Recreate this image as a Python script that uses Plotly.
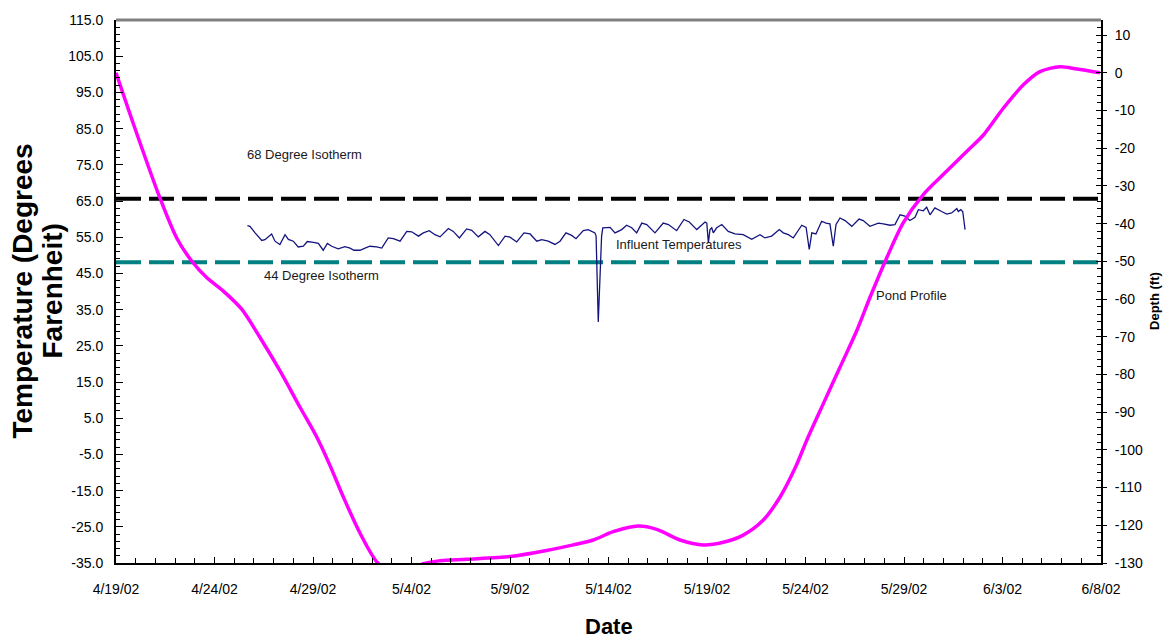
import pandas as pd
import plotly.graph_objects as go

BASE_DATE = "2002-04-19"

# Pond profile (depth, ft) vs days since 4/19/02
pond_day = [0.00, 0.96, 2.23, 3.08, 3.84, 4.60, 5.45, 6.38, 7.31, 8.32, 9.34, 10.19,
            10.86, 11.54, 12.39, 13.31, 14.50, 15.60, 16.45, 17.80, 20.00, 21.86,
            23.21, 24.23, 25.24, 26.51, 27.45, 28.63, 29.81, 30.83, 31.84, 32.86,
            33.71, 34.50, 35.06, 35.90, 36.75, 37.60, 38.27, 39.12, 39.96, 40.98,
            41.99, 43.18, 44.03, 45.04, 46.06, 46.90, 47.92, 48.77, 49.95]
pond_depth = [0.0, -14.7, -33.2, -43.8, -49.9, -54.3, -57.9, -62.7, -70.2, -79.0, -88.7, -96.6,
              -104.1, -112.5, -122.1, -130.1, -133.5, -130.2, -129.4, -129.0, -128.3, -126.7,
              -125.2, -123.9, -121.7, -120.2, -121.1, -123.9, -125.2, -124.5, -122.6, -118.6,
              -112.5, -104.5, -97.5, -87.8, -78.1, -68.4, -59.6, -49.1, -39.8, -32.3,
              -27.0, -20.9, -16.5, -9.4, -3.2, 0.3, 1.6, 1.0, 0.0]

# Influent temperatures (deg F) vs days since 4/19/02
influent_day = [6.67, 6.80, 7.06, 7.40, 7.56, 7.73, 7.90, 8.07, 8.32, 8.58, 8.75, 9.00,
                9.25, 9.51, 9.71, 10.02, 10.27, 10.52, 10.73, 10.95, 11.28, 11.62, 11.88,
                12.08, 12.39, 12.64, 12.89, 13.23, 13.49, 13.82, 14.08, 14.42, 14.76, 15.01,
                15.35, 15.60, 15.90, 16.19, 16.45, 16.87, 17.12, 17.43, 17.80, 18.06, 18.39,
                18.73, 18.98, 19.41, 19.75, 20.00, 20.34, 20.71, 21.02, 21.36, 21.61, 21.94,
                22.28, 22.54, 22.84, 23.13, 23.35, 23.72, 23.97, 24.31, 24.37, 24.48, 24.65,
                24.71, 25.08, 25.33, 25.67, 25.92, 26.18, 26.43, 26.69, 26.94, 27.36, 27.78,
                28.04, 28.46, 28.83, 29.10, 29.48, 29.90, 29.99, 30.07, 30.15, 30.24, 30.32,
                30.49, 30.75, 31.08, 31.42, 31.84, 32.27, 32.69, 32.94, 33.28, 33.67, 33.87,
                34.13, 34.38, 34.81, 35.03, 35.19, 35.32, 35.53, 35.82, 36.04, 36.24, 36.41,
                36.55, 36.75, 37.01, 37.35, 37.72, 37.93, 38.27, 38.70, 38.95, 39.29, 39.54,
                39.80, 40.05, 40.30, 40.56, 40.73, 40.98, 41.15, 41.32, 41.57, 41.91, 42.17,
                42.42, 42.68, 42.76, 42.88, 42.98, 43.10]
influent_temp = [58.2, 58.0, 56.2, 54.1, 54.3, 55.0, 55.9, 53.9, 53.0, 55.7, 54.4, 53.9,
                 52.3, 52.5, 53.8, 53.6, 53.3, 51.4, 53.3, 52.5, 51.8, 52.4, 52.0,
                 51.4, 51.4, 52.0, 52.5, 52.3, 52.0, 54.8, 54.6, 53.9, 56.6, 56.5,
                 55.3, 56.2, 56.8, 55.7, 55.1, 57.4, 56.6, 54.8, 57.3, 56.9, 55.1,
                 56.6, 55.7, 52.7, 55.3, 55.0, 53.7, 56.2, 55.9, 53.9, 54.3, 53.9,
                 53.0, 53.9, 56.2, 55.5, 54.6, 56.8, 57.1, 56.2, 55.3, 31.6, 55.3,
                 57.6, 57.7, 56.2, 57.1, 58.3, 57.6, 56.2, 58.9, 58.5, 56.2, 58.9,
                 58.5, 56.8, 59.9, 59.2, 57.1, 59.2, 58.9, 53.4, 57.1, 57.6, 56.2,
                 57.6, 58.5, 56.6, 55.9, 55.7, 54.4, 55.7, 54.8, 55.3, 57.1, 56.2,
                 55.7, 54.8, 58.3, 57.7, 51.6, 56.2, 55.9, 59.4, 58.9, 58.7, 52.5,
                 58.5, 60.3, 59.6, 58.0, 60.0, 59.6, 58.0, 58.9, 58.7, 58.3, 58.5,
                 61.2, 60.8, 59.6, 60.5, 62.6, 62.3, 63.3, 61.2, 63.1, 62.1, 61.4,
                 61.7, 62.9, 62.1, 62.6, 62.1, 57.1]

# Isotherm reference lines (as drawn, deg F on left axis)
isotherm_day = [0.0, 50.0]
isotherm_68_temp = [65.6, 65.6]
isotherm_44_temp = [48.1, 48.1]

x_tick_days = [0, 5, 10, 15, 20, 25, 30, 35, 40, 45, 50]
x_tick_labels = ["4/19/02", "4/24/02", "4/29/02", "5/4/02", "5/9/02", "5/14/02",
                 "5/19/02", "5/24/02", "5/29/02", "6/3/02", "6/8/02"]

temp_ticks = [-35, -25, -15, -5, 5, 15, 25, 35, 45, 55, 65, 75, 85, 95, 105, 115]
temp_tick_labels = ["-35.0", "-25.0", "-15.0", "-5.0", "5.0", "15.0", "25.0", "35.0",
                    "45.0", "55.0", "65.0", "75.0", "85.0", "95.0", "105.0", "115.0"]
depth_ticks = [-130, -120, -110, -100, -90, -80, -70, -60, -50, -40, -30, -20, -10, 0, 10]
depth_tick_labels = ["-130", "-120", "-110", "-100", "-90", "-80", "-70", "-60", "-50",
                     "-40", "-30", "-20", "-10", "0", "10"]


def to_dates(days):
    base = pd.Timestamp(BASE_DATE)
    return [base + pd.Timedelta(days=d) for d in days]


FONT = "Liberation Sans, Arial, sans-serif"
TXT = "#1a1a1a"

fig = go.Figure()

fig.add_trace(go.Scatter(x=to_dates(isotherm_day), y=isotherm_68_temp, mode="lines",
                         line=dict(color="#000000", width=4, dash="25px,8px"),
                         showlegend=False, hoverinfo="skip"))
fig.add_trace(go.Scatter(x=to_dates(isotherm_day), y=isotherm_44_temp, mode="lines",
                         line=dict(color="#008080", width=4, dash="25px,8px"),
                         showlegend=False, hoverinfo="skip"))
fig.add_trace(go.Scatter(x=to_dates(influent_day), y=influent_temp, mode="lines",
                         line=dict(color="#14147f", width=1.3),
                         showlegend=False, name="Influent Temperatures"))
fig.add_trace(go.Scatter(x=to_dates(pond_day), y=pond_depth, mode="lines", yaxis="y2",
                         line=dict(color="#ff00ff", width=3.5, shape="spline", smoothing=0.8),
                         showlegend=False, name="Pond Profile"))
# invisible trace so the tick-crossing overlay axis is drawn
fig.add_trace(go.Scatter(x=to_dates([0]), y=[0], mode="markers", yaxis="y3",
                         marker=dict(opacity=0), showlegend=False, hoverinfo="skip"))

x_start, x_end = to_dates([0, 50])

fig.update_layout(
    width=1167, height=638,
    margin=dict(l=116, r=66, t=18, b=75),
    paper_bgcolor="white", plot_bgcolor="white",
    font=dict(family=FONT, size=14, color=TXT),
    xaxis=dict(
        range=[x_start, x_end], type="date",
        tickmode="array", tickvals=to_dates(x_tick_days), ticktext=x_tick_labels,
        ticks="inside", ticklen=6, tickcolor="black", tickwidth=1,
        ticklabelstandoff=12,
        minor=dict(ticks="inside", ticklen=5, dtick=86400000, tickcolor="black"),
        showline=True, linecolor="black", linewidth=2,
        showgrid=False, zeroline=False,
        tickfont=dict(size=14, color="black"),
    ),
    yaxis=dict(
        range=[-35, 115], tickmode="array", tickvals=temp_ticks, ticktext=temp_tick_labels,
        ticks="inside", ticklen=7, tickcolor="black",
        minor=dict(ticks="inside", ticklen=4, dtick=2, tick0=-35, tickcolor="black"),
        ticklabelstandoff=8,
        showline=True, linecolor="black", linewidth=2,
        showgrid=False, zeroline=False,
        tickfont=dict(size=14, color="black"),
    ),
    yaxis2=dict(
        range=[-130, 14], tickmode="array", tickvals=depth_ticks, ticktext=depth_tick_labels,
        overlaying="y", side="right",
        ticks="outside", ticklen=4, tickcolor="black",
        minor=dict(ticks="inside", ticklen=4, dtick=2, tick0=-130, tickcolor="black"),
        ticklabelstandoff=5,
        showline=True, linecolor="black", linewidth=2,
        showgrid=False, zeroline=False,
        tickfont=dict(size=14, color="black"),
    ),
    yaxis3=dict(
        range=[-130, 14], tickmode="array", tickvals=depth_ticks,
        overlaying="y", side="right", showticklabels=False,
        ticks="inside", ticklen=5, tickcolor="black",
        showline=False, showgrid=False, zeroline=False,
    ),
    shapes=[dict(type="line", xref="paper", yref="paper", x0=0, x1=1, y0=1, y1=1,
                 line=dict(color="#808080", width=3))],
)

annotations = [
    dict(text="68 Degree Isotherm", x=to_dates([6.55])[0], y=77.8, xref="x", yref="y",
         xanchor="left", yanchor="middle", showarrow=False, font=dict(size=13, color=TXT)),
    dict(text="44 Degree Isotherm", x=to_dates([7.41])[0], y=44.5, xref="x", yref="y",
         xanchor="left", yanchor="middle", showarrow=False, font=dict(size=13, color=TXT)),
    dict(text="Influent Temperatures", x=to_dates([25.28])[0], y=53.1, xref="x", yref="y",
         xanchor="left", yanchor="middle", showarrow=False, font=dict(size=13, color=TXT)),
    dict(text="Pond Profile", x=to_dates([38.48])[0], y=39.0, xref="x", yref="y",
         xanchor="left", yanchor="middle", showarrow=False, font=dict(size=13, color=TXT)),
    dict(text="<b>Temperature (Degrees</b>", x=0, y=0.5, xref="paper", yref="paper",
         xshift=-94, textangle=-90, xanchor="center", yanchor="middle", showarrow=False,
         font=dict(size=28, color="black")),
    dict(text="<b>Farenheit)</b>", x=0, y=0.5, xref="paper", yref="paper",
         xshift=-64, textangle=-90, xanchor="center", yanchor="middle", showarrow=False,
         font=dict(size=28, color="black")),
    dict(text="<b>Date</b>", x=0.5, y=0, xref="paper", yref="paper", yshift=-63,
         xanchor="center", yanchor="middle", showarrow=False,
         font=dict(size=22, color="black")),
    dict(text="<b>Depth (ft)</b>", x=1, y=0.4826, xref="paper", yref="paper", xshift=54,
         textangle=-90, xanchor="center", yanchor="middle", showarrow=False,
         font=dict(size=13, color="black")),
]
fig.update_layout(annotations=annotations)

fig.write_html("out.html", config={"displayModeBar": False},
               post_script="document.body.style.margin='0';document.body.style.padding='0';")
